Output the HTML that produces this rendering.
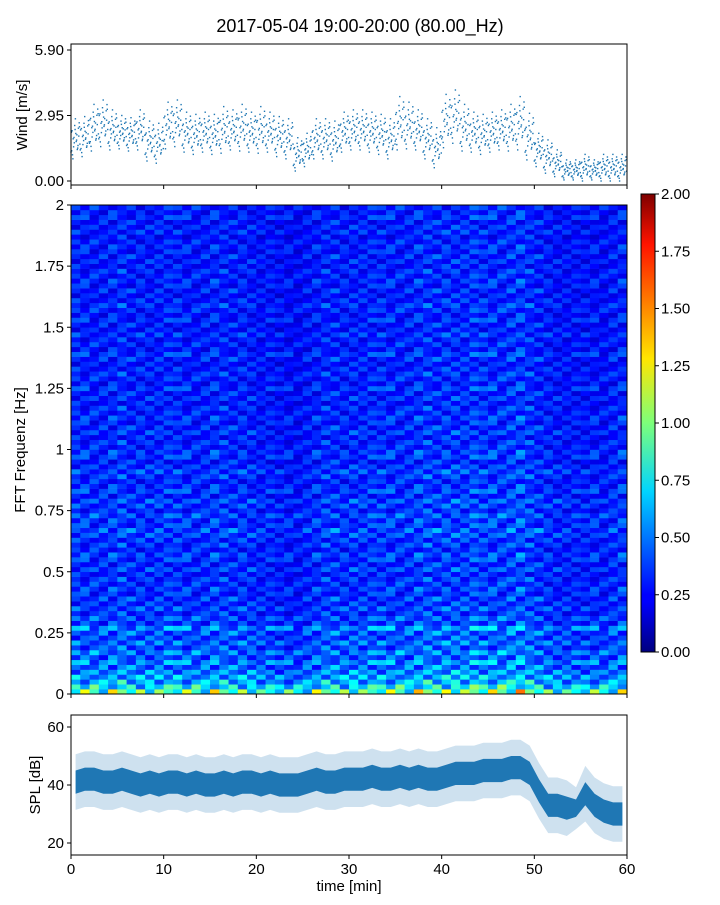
<!DOCTYPE html>
<html><head><meta charset="utf-8"><style>
body{margin:0;background:#fff;font-family:"Liberation Sans",sans-serif}
svg text{font-family:"Liberation Sans",sans-serif;fill:#000}
</style></head><body>
<svg id="c" width="720" height="900" xmlns="http://www.w3.org/2000/svg">
<defs><linearGradient id="jet" x1="0" y1="1" x2="0" y2="0">
<stop offset="0" stop-color="#00007f"/><stop offset="0.11" stop-color="#0000ff"/><stop offset="0.125" stop-color="#0000ff"/><stop offset="0.35" stop-color="#00d4ff"/><stop offset="0.5" stop-color="#7dff7a"/><stop offset="0.64" stop-color="#ffe600"/><stop offset="0.89" stop-color="#ff1300"/><stop offset="1" stop-color="#7f0000"/></linearGradient></defs>
<text x="360" y="32" font-size="18" text-anchor="middle">2017-05-04 19:00-20:00 (80.00_Hz)</text>
<g id="wind"></g>
<g id="spec"></g>
<g id="cbar"></g>
<g id="spl"></g>
</svg>
<script>
// ---- data ----
const windMean=[1.9,2.0,2.4,2.6,2.3,2.2,2.1,2.3,1.8,1.7,2.5,2.6,2.2,2.1,2.2,2.1,2.3,2.3,2.4,2.2,2.3,2.2,2.0,1.9,1.2,1.4,1.9,1.9,1.8,2.2,2.3,2.3,2.2,2.1,1.9,2.6,2.5,2.3,1.9,1.5,2.7,2.9,2.4,2.2,2.1,2.2,2.3,2.4,2.6,2.0,1.4,1.1,0.8,0.5,0.5,0.6,0.5,0.6,0.6,0.6];
const windSpread=[0.6,0.6,0.7,0.7,0.6,0.5,0.5,0.6,0.6,0.6,0.7,0.7,0.6,0.6,0.6,0.6,0.7,0.6,0.7,0.6,0.7,0.6,0.6,0.6,0.5,0.5,0.6,0.6,0.6,0.6,0.6,0.6,0.6,0.6,0.6,0.8,0.7,0.6,0.6,0.6,0.8,0.8,0.7,0.6,0.6,0.6,0.6,0.7,0.8,0.7,0.5,0.5,0.4,0.3,0.3,0.4,0.3,0.4,0.4,0.4];
const windTicks=[0.00,2.95,5.90];
const specRows=[0.95,0.7,0.6,0.55,0.5,0.45,0.5,0.42,0.48,0.4,0.44,0.38,0.42,0.5,0.36,0.4,0.34,0.38,0.33,0.36,
0.32,0.37,0.33,0.35,0.3,0.36,0.32,0.34,0.38,0.31,0.35,0.33,0.37,0.4,0.34,0.36,0.39,0.33,0.35,0.38,
0.32,0.36,0.34,0.31,0.35,0.37,0.33,0.3,0.34,0.36,0.31,0.33,0.29,0.34,0.32,0.3,0.35,0.31,0.33,0.28,
0.32,0.3,0.34,0.29,0.31,0.33,0.3,0.28,0.32,0.34,0.29,0.31,0.3,0.33,0.28,0.3,0.32,0.29,0.31,0.34,
0.3,0.28,0.31,0.29,0.33,0.3,0.32,0.28,0.3,0.31,0.29,0.32,0.3,0.28,0.31,0.3,0.29,0.32,0.3,0.31];
const specCols=[1.05,1.0,1.02,0.98,1.0,1.05,0.97,1.0,0.96,1.03,1.0,1.04,0.98,1.0,0.97,1.02,1.0,0.98,1.0,0.95,0.92,0.9,0.88,0.86,0.85,0.9,0.95,1.0,1.02,0.98,1.0,1.03,1.0,1.05,1.02,1.04,1.0,1.06,1.08,1.05,1.1,1.08,1.1,1.12,1.1,1.08,1.1,1.12,1.15,1.05,1.0,0.95,0.9,0.92,0.88,0.9,0.92,0.9,0.95,1.0];
const specPatch=[
[0.7,1.3,0.9,0.6,1.4,1.0,0.8,1.2,0.65,1.1,0.9],
[1.2,0.8,1.4,1.0,0.7,0.9,1.3,0.6,1.1,0.85,1.35],
[0.9,0.6,1.0,1.3,0.95,1.45,0.7,1.0,1.25,0.6,1.0],
[1.35,1.0,0.7,0.9,1.2,0.65,1.1,1.4,0.8,1.3,0.75],
[0.6,1.15,1.25,0.75,1.0,1.3,0.9,0.7,1.45,0.95,1.2],
[1.0,0.75,0.85,1.4,0.6,1.1,1.5,0.95,0.7,1.25,0.65],
[1.25,1.4,0.6,1.1,1.3,0.8,0.65,1.2,1.0,0.7,1.4]];
const specYTicks=[0,0.25,0.5,0.75,1,1.25,1.5,1.75,2];
const specYLabels=["0","0.25","0.5","0.75","1","1.25","1.5","1.75","2"];
const cbarTicks=[0,0.25,0.5,0.75,1,1.25,1.5,1.75,2];
const splMean=[41,42,42,41,41,42,41,40,41,40,41,41,40,41,40,40,41,40,41,41,40,41,40,40,40,41,42,41,41,42,42,42,43,42,42,43,42,43,42,42,43,44,44,44,45,45,45,46,46,44,38,33,33,32,32,37,33,31,30,30];
const splBand=[4,4,4,4,4,4,4,4,4,4,4,4,4,4,4,4,4,4,4,4,4,4,4,4,4,4,4,4,4,4,4,4,4,4,4,4,4,4,4,4,4,4,4,4,4,4,4,4,4,4,4,4,4,4,3,4,4,4,4,4];
const splTicks=[20,40,60];
const timeTicks=[0,10,20,30,40,50,60];
const offsets=[-1,-0.6,-0.2,0.2,0.6,1,-0.8,-0.4,0,0.4,0.8,-0.9,-0.3,0.3,0.9,-1.5,1.5,-0.5,0.5,0.1,-0.1,1.2,-1.2,0.7,-0.7];
// ---- helpers ----
const NS="http://www.w3.org/2000/svg";
function mk(p,t,a,txt){const e=document.createElementNS(NS,t);for(const k in a)e.setAttribute(k,a[k]);if(txt!==undefined)e.textContent=txt;p.appendChild(e);return e;}
const X0=71,X1=627;
const tx=t=>X0+(X1-X0)*t/60;
function clamp(v){return Math.max(0,Math.min(1,v));}
function jet(v){const t=clamp(v/2);const r=clamp(1.5-Math.abs(4*t-3)),g=clamp(1.5-Math.abs(4*t-2)),b=clamp(1.5-Math.abs(4*t-1));return `rgb(${Math.round(r*255)},${Math.round(g*255)},${Math.round(b*255)})`;}
// ---- wind ----
const W=document.getElementById('wind');
const wy=v=>181-v*(131/5.9);
for(let m=0;m<windMean.length;m++){for(let k=0;k<offsets.length;k++){
 const c=mk(W,'rect',{x:(tx(m+((k*7)%25)/25)-0.7).toFixed(1),y:(wy(windMean[m]+offsets[k]*windSpread[m])-0.7).toFixed(1),width:1.4,height:1.4,fill:'#1f77b4'});
 
 }}
let r=mk(W,'rect',{x:X0,y:44,width:X1-X0,height:141,fill:'none',stroke:'#000','stroke-width':1});

windTicks.forEach(v=>{mk(W,'line',{x1:X0-4,x2:X0,y1:wy(v),y2:wy(v),stroke:'#000'});const t=mk(W,'text',{x:X0-7,y:wy(v)+5,'font-size':15,'text-anchor':'end'},v.toFixed(2));});
timeTicks.forEach(v=>mk(W,'line',{x1:tx(v),x2:tx(v),y1:185,y2:189,stroke:'#000'}));
let yl=mk(W,'text',{x:27,y:115,'font-size':15,'text-anchor':'middle',transform:'rotate(-90 27 115)'},'Wind [m/s]');
// ---- spectrogram ----
const S=document.getElementById('spec');
const SY0=694,SY1=205;const fy=f=>SY0-(SY0-SY1)*f/2;
const rh=(SY0-SY1)/specRows.length,cw=(X1-X0)/specCols.length;
for(let i=0;i<specRows.length;i++)for(let j=0;j<specCols.length;j++){
 const p=specPatch[i%specPatch.length][j%specPatch[0].length];
 const c=mk(S,'rect',{x:(X0+j*cw).toFixed(2),y:(SY0-(i+1)*rh).toFixed(2),width:(cw+0.3).toFixed(2),height:(rh+0.3).toFixed(2),fill:jet(specRows[i]*specCols[j]*p)});
 
 }
r=mk(S,'rect',{x:X0,y:SY1,width:X1-X0,height:SY0-SY1,fill:'none',stroke:'#000'});
specYTicks.forEach((v,i)=>{mk(S,'line',{x1:X0-4,x2:X0,y1:fy(v),y2:fy(v),stroke:'#000'});const t=mk(S,'text',{x:X0-7,y:fy(v)+5,'font-size':15,'text-anchor':'end'},specYLabels[i]);});
timeTicks.forEach(v=>mk(S,'line',{x1:tx(v),x2:tx(v),y1:SY0,y2:SY0+4,stroke:'#000'}));
yl=mk(S,'text',{x:25,y:450,'font-size':15,'text-anchor':'middle',transform:'rotate(-90 25 450)'},'FFT Frequenz [Hz]');
// ---- colorbar ----
const C=document.getElementById('cbar');
const cy=v=>652-(652-194)*v/2;
r=mk(C,'rect',{x:641,y:194,width:14,height:458,fill:'url(#jet)',stroke:'#000'});
cbarTicks.forEach(v=>{mk(C,'line',{x1:655,x2:659,y1:cy(v),y2:cy(v),stroke:'#000'});const t=mk(C,'text',{x:661,y:cy(v)+5,'font-size':15},v.toFixed(2));});
// ---- SPL ----
const P=document.getElementById('spl');
const sy=v=>785-(v-40)*2.9;
function band(k,op,name){let up=[],dn=[];for(let m=0;m<splMean.length;m++){const x=tx(m+0.5);up.push(`${x.toFixed(1)},${sy(splMean[m]+k*splBand[m]).toFixed(1)}`);dn.unshift(`${x.toFixed(1)},${sy(splMean[m]-k*splBand[m]).toFixed(1)}`);}
 const p=mk(P,'polygon',{points:up.concat(dn).join(' '),fill:'#1f77b4','fill-opacity':op});}
band(2.4,0.22,'spl-outer-band');band(1,1,'spl-core-band');
r=mk(P,'rect',{x:X0,y:715,width:X1-X0,height:140,fill:'none',stroke:'#000'});
splTicks.forEach(v=>{mk(P,'line',{x1:X0-4,x2:X0,y1:sy(v),y2:sy(v),stroke:'#000'});const t=mk(P,'text',{x:X0-7,y:sy(v)+5,'font-size':15,'text-anchor':'end'},String(v));});
timeTicks.forEach(v=>{mk(P,'line',{x1:tx(v),x2:tx(v),y1:855,y2:859,stroke:'#000'});const t=mk(P,'text',{x:tx(v),y:874,'font-size':15,'text-anchor':'middle'},String(v));});
yl=mk(P,'text',{x:40,y:785,'font-size':15,'text-anchor':'middle',transform:'rotate(-90 40 785)'},'SPL [dB]');
const xl=mk(P,'text',{x:349,y:891,'font-size':15,'text-anchor':'middle'},'time [min]');
</script>
</body></html>
